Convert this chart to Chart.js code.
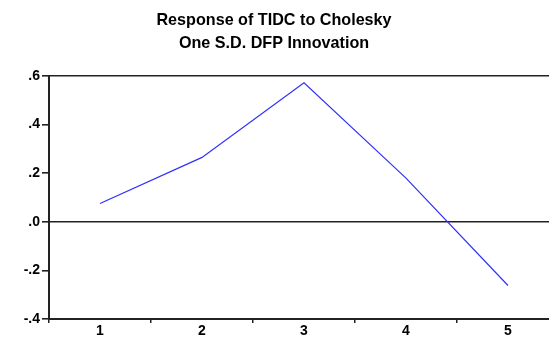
<!DOCTYPE html>
<html>
<head>
<meta charset="utf-8">
<script src="https://cdn.jsdelivr.net/npm/chart.js@4/dist/chart.umd.min.js"></script>
<style>
html,body{margin:0;padding:0;background:#fff;overflow:hidden;width:549px;height:340px;}
#wrap{position:absolute;left:0;top:0;width:560px;height:340px;}
</style>
</head>
<body>
<div id="wrap"><canvas id="c" width="560" height="340"></canvas></div>
<script>
const titleLines = ["Response of TIDC to Cholesky", "One S.D. DFP Innovation"];
const periods = ["1", "2", "3", "4", "5"];
const responseValues = [0.075, 0.265, 0.572, 0.18, -0.262];
const yTickValues = [0.6, 0.4, 0.2, 0.0, -0.2, -0.4];
const yTickLabels = [".6", ".4", ".2", ".0", "-.2", "-.4"];

const titlePlugin = {
  id: 'eviewsTitle',
  afterDraw(chart) {
    const ctx = chart.ctx;
    ctx.save();
    ctx.fillStyle = '#000';
    ctx.textAlign = 'center';
    ctx.textBaseline = 'middle';
    ctx.font = 'bold 17px "Liberation Sans", Arial, sans-serif';
    ctx.translate(274, 0);
    ctx.scale(0.95, 1);
    ctx.fillText(titleLines[0], 0, 20);
    ctx.fillText(titleLines[1], 0, 43);
    ctx.restore();
  }
};

const axisFont = { family: '"Liberation Sans", Arial, sans-serif', weight: 'bold', size: 14 };

new Chart(document.getElementById('c'), {
  type: 'line',
  data: {
    labels: periods,
    datasets: [{
      data: responseValues,
      borderColor: '#3030ff',
      borderWidth: 1.2,
      pointRadius: 0,
      tension: 0,
      fill: false
    }]
  },
  options: {
    responsive: false,
    animation: false,
    events: [],
    layout: { padding: { top: 76, right: 1, left: 0, bottom: 0 } },
    plugins: { legend: { display: false }, tooltip: { enabled: false }, title: { display: false } },
    scales: {
      x: {
        type: 'category',
        offset: true,
        border: { color: '#222', width: 2 },
        grid: { offset: true, drawOnChartArea: false, color: '#222', tickLength: 4, tickColor: '#222', lineWidth: 1.5 },
        ticks: { color: '#000', font: axisFont, padding: 0, maxRotation: 0 },
        afterFit(s) { s.height = 21; }
      },
      y: {
        type: 'linear',
        min: -0.4,
        max: 0.6,
        afterBuildTicks(s) { s.ticks = yTickValues.map(v => ({ value: v })); },
        border: { color: '#222', width: 2 },
        grid: {
          color: ctx => (ctx.tick && (Math.abs(ctx.tick.value) < 1e-9 || Math.abs(ctx.tick.value - 0.6) < 1e-9)) ? '#222' : 'rgba(0,0,0,0)',
          tickColor: '#222',
          tickLength: 7,
          lineWidth: 1.6
        },
        ticks: {
          color: '#000',
          font: axisFont,
          padding: 2,
          callback: (v) => {
            const i = yTickValues.findIndex(t => Math.abs(t - v) < 1e-9);
            return i >= 0 ? yTickLabels[i] : '';
          }
        },
        afterFit(s) { s.width = 49; }
      }
    }
  },
  plugins: [titlePlugin]
});
</script>
</body>
</html>
